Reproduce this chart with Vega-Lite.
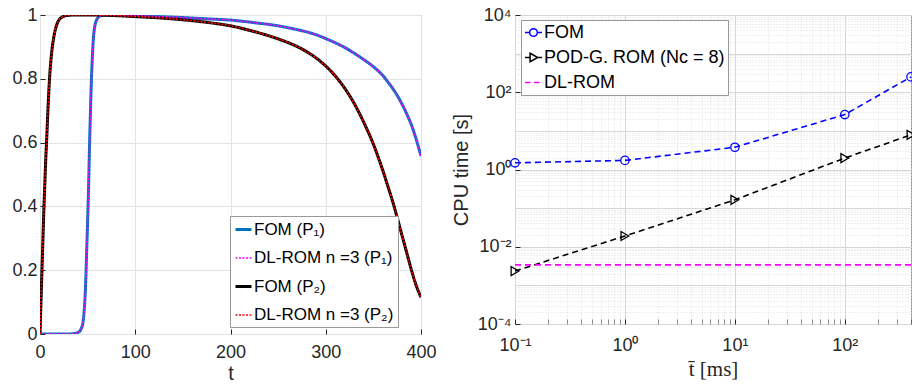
{
  "$schema": "https://vega.github.io/schema/vega-lite/v6.json",
  "padding": {"left": 11, "top": 5, "right": 0, "bottom": 0},
  "background": "white",
  "datasets": {
    "curves": [
      {"t": 0, "FOM (P₁)": 0, "DL-ROM n =3 (P₁)": 0, "FOM (P₂)": 0, "DL-ROM n =3 (P₂)": 0},
      {"t": 1, "FOM (P₁)": 0, "DL-ROM n =3 (P₁)": 0, "FOM (P₂)": 0.1, "DL-ROM n =3 (P₂)": 0.1},
      {"t": 2, "FOM (P₁)": 0, "DL-ROM n =3 (P₁)": 0, "FOM (P₂)": 0.195, "DL-ROM n =3 (P₂)": 0.195},
      {"t": 3, "FOM (P₁)": 0, "DL-ROM n =3 (P₁)": 0, "FOM (P₂)": 0.29, "DL-ROM n =3 (P₂)": 0.29},
      {"t": 4, "FOM (P₁)": 0, "DL-ROM n =3 (P₁)": 0, "FOM (P₂)": 0.385, "DL-ROM n =3 (P₂)": 0.385},
      {"t": 5, "FOM (P₁)": 0, "DL-ROM n =3 (P₁)": 0, "FOM (P₂)": 0.465, "DL-ROM n =3 (P₂)": 0.465},
      {"t": 6, "FOM (P₁)": 0, "DL-ROM n =3 (P₁)": 0, "FOM (P₂)": 0.545, "DL-ROM n =3 (P₂)": 0.545},
      {"t": 7, "FOM (P₁)": 0, "DL-ROM n =3 (P₁)": 0, "FOM (P₂)": 0.61, "DL-ROM n =3 (P₂)": 0.61},
      {"t": 8, "FOM (P₁)": 0, "DL-ROM n =3 (P₁)": 0, "FOM (P₂)": 0.68, "DL-ROM n =3 (P₂)": 0.68},
      {"t": 9, "FOM (P₁)": 0, "DL-ROM n =3 (P₁)": 0, "FOM (P₂)": 0.745, "DL-ROM n =3 (P₂)": 0.745},
      {"t": 10, "FOM (P₁)": 0, "DL-ROM n =3 (P₁)": 0, "FOM (P₂)": 0.8, "DL-ROM n =3 (P₂)": 0.8},
      {"t": 12, "FOM (P₁)": 0, "DL-ROM n =3 (P₁)": 0, "FOM (P₂)": 0.875, "DL-ROM n =3 (P₂)": 0.875},
      {"t": 14, "FOM (P₁)": 0, "DL-ROM n =3 (P₁)": 0, "FOM (P₂)": 0.922, "DL-ROM n =3 (P₂)": 0.922},
      {"t": 16, "FOM (P₁)": 0, "DL-ROM n =3 (P₁)": 0, "FOM (P₂)": 0.953, "DL-ROM n =3 (P₂)": 0.953},
      {"t": 18, "FOM (P₁)": 0, "DL-ROM n =3 (P₁)": 0, "FOM (P₂)": 0.973, "DL-ROM n =3 (P₂)": 0.973},
      {"t": 20, "FOM (P₁)": 0, "DL-ROM n =3 (P₁)": 0, "FOM (P₂)": 0.985, "DL-ROM n =3 (P₂)": 0.985},
      {"t": 23, "FOM (P₁)": 0, "DL-ROM n =3 (P₁)": 0, "FOM (P₂)": 0.993, "DL-ROM n =3 (P₂)": 0.993},
      {"t": 26, "FOM (P₁)": 0, "DL-ROM n =3 (P₁)": 0, "FOM (P₂)": 0.997, "DL-ROM n =3 (P₂)": 0.997},
      {"t": 30, "FOM (P₁)": 0, "DL-ROM n =3 (P₁)": 0, "FOM (P₂)": 0.999, "DL-ROM n =3 (P₂)": 0.999},
      {"t": 35, "FOM (P₁)": 0.001, "DL-ROM n =3 (P₁)": 0.001, "FOM (P₂)": 1, "DL-ROM n =3 (P₂)": 1},
      {"t": 40, "FOM (P₁)": 0.005, "DL-ROM n =3 (P₁)": 0.005, "FOM (P₂)": 1, "DL-ROM n =3 (P₂)": 1},
      {"t": 43, "FOM (P₁)": 0.015, "DL-ROM n =3 (P₁)": 0.015, "FOM (P₂)": 1, "DL-ROM n =3 (P₂)": 1},
      {"t": 45, "FOM (P₁)": 0.035, "DL-ROM n =3 (P₁)": 0.035, "FOM (P₂)": 1, "DL-ROM n =3 (P₂)": 1},
      {"t": 46, "FOM (P₁)": 0.06, "DL-ROM n =3 (P₁)": 0.06, "FOM (P₂)": 1, "DL-ROM n =3 (P₂)": 1},
      {"t": 47, "FOM (P₁)": 0.1, "DL-ROM n =3 (P₁)": 0.1, "FOM (P₂)": 1, "DL-ROM n =3 (P₂)": 1},
      {"t": 48, "FOM (P₁)": 0.165, "DL-ROM n =3 (P₁)": 0.165, "FOM (P₂)": 1, "DL-ROM n =3 (P₂)": 1},
      {"t": 49, "FOM (P₁)": 0.26, "DL-ROM n =3 (P₁)": 0.26, "FOM (P₂)": 1, "DL-ROM n =3 (P₂)": 1},
      {"t": 50, "FOM (P₁)": 0.355, "DL-ROM n =3 (P₁)": 0.355, "FOM (P₂)": 1, "DL-ROM n =3 (P₂)": 1},
      {"t": 51, "FOM (P₁)": 0.46, "DL-ROM n =3 (P₁)": 0.46, "FOM (P₂)": 1, "DL-ROM n =3 (P₂)": 1},
      {"t": 52, "FOM (P₁)": 0.59, "DL-ROM n =3 (P₁)": 0.59, "FOM (P₂)": 1, "DL-ROM n =3 (P₂)": 1},
      {"t": 53, "FOM (P₁)": 0.7, "DL-ROM n =3 (P₁)": 0.7, "FOM (P₂)": 1, "DL-ROM n =3 (P₂)": 1},
      {"t": 54, "FOM (P₁)": 0.8, "DL-ROM n =3 (P₁)": 0.8, "FOM (P₂)": 1, "DL-ROM n =3 (P₂)": 1},
      {"t": 55, "FOM (P₁)": 0.87, "DL-ROM n =3 (P₁)": 0.87, "FOM (P₂)": 1, "DL-ROM n =3 (P₂)": 1},
      {"t": 56, "FOM (P₁)": 0.925, "DL-ROM n =3 (P₁)": 0.925, "FOM (P₂)": 1, "DL-ROM n =3 (P₂)": 1},
      {"t": 57, "FOM (P₁)": 0.955, "DL-ROM n =3 (P₁)": 0.955, "FOM (P₂)": 1, "DL-ROM n =3 (P₂)": 1},
      {"t": 58, "FOM (P₁)": 0.972, "DL-ROM n =3 (P₁)": 0.972, "FOM (P₂)": 1, "DL-ROM n =3 (P₂)": 1},
      {"t": 60, "FOM (P₁)": 0.988, "DL-ROM n =3 (P₁)": 0.988, "FOM (P₂)": 1, "DL-ROM n =3 (P₂)": 1},
      {"t": 62, "FOM (P₁)": 0.995, "DL-ROM n =3 (P₁)": 0.995, "FOM (P₂)": 0.999, "DL-ROM n =3 (P₂)": 0.999},
      {"t": 65, "FOM (P₁)": 0.999, "DL-ROM n =3 (P₁)": 0.999, "FOM (P₂)": 0.999, "DL-ROM n =3 (P₂)": 0.999},
      {"t": 70, "FOM (P₁)": 1, "DL-ROM n =3 (P₁)": 1, "FOM (P₂)": 0.999, "DL-ROM n =3 (P₂)": 0.999},
      {"t": 80, "FOM (P₁)": 1, "DL-ROM n =3 (P₁)": 1, "FOM (P₂)": 0.998, "DL-ROM n =3 (P₂)": 0.998},
      {"t": 100, "FOM (P₁)": 0.998, "DL-ROM n =3 (P₁)": 0.998, "FOM (P₂)": 0.995, "DL-ROM n =3 (P₂)": 0.995},
      {"t": 125, "FOM (P₁)": 0.995, "DL-ROM n =3 (P₁)": 0.995, "FOM (P₂)": 0.991, "DL-ROM n =3 (P₂)": 0.991},
      {"t": 150, "FOM (P₁)": 0.992, "DL-ROM n =3 (P₁)": 0.992, "FOM (P₂)": 0.985, "DL-ROM n =3 (P₂)": 0.985},
      {"t": 175, "FOM (P₁)": 0.988, "DL-ROM n =3 (P₁)": 0.988, "FOM (P₂)": 0.977, "DL-ROM n =3 (P₂)": 0.977},
      {"t": 200, "FOM (P₁)": 0.984, "DL-ROM n =3 (P₁)": 0.984, "FOM (P₂)": 0.966, "DL-ROM n =3 (P₂)": 0.966},
      {"t": 225, "FOM (P₁)": 0.976, "DL-ROM n =3 (P₁)": 0.976, "FOM (P₂)": 0.948, "DL-ROM n =3 (P₂)": 0.948},
      {"t": 250, "FOM (P₁)": 0.966, "DL-ROM n =3 (P₁)": 0.966, "FOM (P₂)": 0.925, "DL-ROM n =3 (P₂)": 0.925},
      {"t": 270, "FOM (P₁)": 0.954, "DL-ROM n =3 (P₁)": 0.954, "FOM (P₂)": 0.901, "DL-ROM n =3 (P₂)": 0.901},
      {"t": 280, "FOM (P₁)": 0.947, "DL-ROM n =3 (P₁)": 0.947, "FOM (P₂)": 0.885, "DL-ROM n =3 (P₂)": 0.885},
      {"t": 290, "FOM (P₁)": 0.938, "DL-ROM n =3 (P₁)": 0.938, "FOM (P₂)": 0.865, "DL-ROM n =3 (P₂)": 0.865},
      {"t": 300, "FOM (P₁)": 0.926, "DL-ROM n =3 (P₁)": 0.926, "FOM (P₂)": 0.84, "DL-ROM n =3 (P₂)": 0.84},
      {"t": 310, "FOM (P₁)": 0.913, "DL-ROM n =3 (P₁)": 0.913, "FOM (P₂)": 0.809, "DL-ROM n =3 (P₂)": 0.809},
      {"t": 320, "FOM (P₁)": 0.898, "DL-ROM n =3 (P₁)": 0.898, "FOM (P₂)": 0.77, "DL-ROM n =3 (P₂)": 0.77},
      {"t": 330, "FOM (P₁)": 0.88, "DL-ROM n =3 (P₁)": 0.88, "FOM (P₂)": 0.722, "DL-ROM n =3 (P₂)": 0.722},
      {"t": 340, "FOM (P₁)": 0.86, "DL-ROM n =3 (P₁)": 0.86, "FOM (P₂)": 0.663, "DL-ROM n =3 (P₂)": 0.663},
      {"t": 350, "FOM (P₁)": 0.838, "DL-ROM n =3 (P₁)": 0.838, "FOM (P₂)": 0.595, "DL-ROM n =3 (P₂)": 0.595},
      {"t": 355, "FOM (P₁)": 0.825, "DL-ROM n =3 (P₁)": 0.825, "FOM (P₂)": 0.555, "DL-ROM n =3 (P₂)": 0.555},
      {"t": 360, "FOM (P₁)": 0.81, "DL-ROM n =3 (P₁)": 0.81, "FOM (P₂)": 0.512, "DL-ROM n =3 (P₂)": 0.512},
      {"t": 365, "FOM (P₁)": 0.791, "DL-ROM n =3 (P₁)": 0.791, "FOM (P₂)": 0.465, "DL-ROM n =3 (P₂)": 0.465},
      {"t": 370, "FOM (P₁)": 0.771, "DL-ROM n =3 (P₁)": 0.771, "FOM (P₂)": 0.418, "DL-ROM n =3 (P₂)": 0.418},
      {"t": 375, "FOM (P₁)": 0.748, "DL-ROM n =3 (P₁)": 0.748, "FOM (P₂)": 0.365, "DL-ROM n =3 (P₂)": 0.365},
      {"t": 380, "FOM (P₁)": 0.721, "DL-ROM n =3 (P₁)": 0.721, "FOM (P₂)": 0.31, "DL-ROM n =3 (P₂)": 0.31},
      {"t": 385, "FOM (P₁)": 0.69, "DL-ROM n =3 (P₁)": 0.69, "FOM (P₂)": 0.255, "DL-ROM n =3 (P₂)": 0.255},
      {"t": 390, "FOM (P₁)": 0.655, "DL-ROM n =3 (P₁)": 0.655, "FOM (P₂)": 0.2, "DL-ROM n =3 (P₂)": 0.2},
      {"t": 395, "FOM (P₁)": 0.61, "DL-ROM n =3 (P₁)": 0.61, "FOM (P₂)": 0.152, "DL-ROM n =3 (P₂)": 0.152},
      {"t": 400, "FOM (P₁)": 0.558, "DL-ROM n =3 (P₁)": 0.558, "FOM (P₂)": 0.115, "DL-ROM n =3 (P₂)": 0.115}
    ],
    "cpu": [
      {"series": "FOM", "tbar": 0.1, "cpu": 1.49},
      {"series": "FOM", "tbar": 1, "cpu": 1.72},
      {"series": "FOM", "tbar": 10, "cpu": 3.77},
      {"series": "FOM", "tbar": 100, "cpu": 26.4},
      {"series": "FOM", "tbar": 400, "cpu": 250},
      {"series": "POD-G. ROM (Nc = 8)", "tbar": 0.1, "cpu": 0.00235},
      {"series": "POD-G. ROM (Nc = 8)", "tbar": 1, "cpu": 0.019},
      {"series": "POD-G. ROM (Nc = 8)", "tbar": 10, "cpu": 0.164},
      {"series": "POD-G. ROM (Nc = 8)", "tbar": 100, "cpu": 1.98},
      {"series": "POD-G. ROM (Nc = 8)", "tbar": 400, "cpu": 7.9},
      {"series": "DL-ROM", "tbar": 0.1, "cpu": 0.0034},
      {"series": "DL-ROM", "tbar": 400, "cpu": 0.0034}
    ]
  },
  "config": {
    "font": "Liberation Sans",
    "view": {"stroke": "#8c8c8c", "strokeWidth": 1},
    "concat": {"spacing": 13},
    "axis": {
      "domain": false,
      "labelFont": "Liberation Sans",
      "labelFontSize": 18,
      "labelColor": "#262626",
      "tickColor": "#262626",
      "tickSize": -5,
      "labelPadding": 11,
      "titleFont": "Liberation Sans",
      "titleFontSize": 20,
      "titleFontWeight": "normal",
      "titleColor": "#262626",
      "gridColor": "#e3e3e3"
    }
  },
  "resolve": {
    "scale": {"color": "independent", "shape": "independent", "strokeDash": "independent", "strokeWidth": "independent"},
    "legend": {"color": "independent", "shape": "independent", "strokeDash": "independent", "strokeWidth": "independent"}
  },
  "hconcat": [
    {
      "width": 381,
      "height": 319,
      "data": {"name": "curves"},
      "transform": [
        {"fold": ["FOM (P₁)", "FOM (P₂)", "DL-ROM n =3 (P₁)", "DL-ROM n =3 (P₂)"], "as": ["series", "u"]}
      ],
      "mark": {"type": "line", "interpolate": "monotone", "clip": true},
      "encoding": {
        "x": {
          "field": "t", "type": "quantitative",
          "scale": {"domain": [0, 400], "nice": false},
          "axis": {"values": [0, 100, 200, 300, 400], "title": "t", "titlePadding": 2, "labelPadding": 14, "labelFlush": false}
        },
        "y": {
          "field": "u", "type": "quantitative",
          "scale": {"domain": [0, 1], "nice": false},
          "axis": {"values": [0, 0.2, 0.4, 0.6, 0.8, 1], "title": null, "labelExpr": "'' + datum.value", "labelFlush": false, "labelAlign": "right", "labelPadding": 8}
        },
        "color": {
          "field": "series", "type": "nominal",
          "scale": {
            "domain": ["FOM (P₁)", "DL-ROM n =3 (P₁)", "FOM (P₂)", "DL-ROM n =3 (P₂)"],
            "range": ["#0072BD", "#FF00FF", "#000000", "#FF0000"]
          },
          "legend": {
            "title": null, "orient": "none", "legendX": 190, "legendY": 201,
            "direction": "vertical", "zindex": 2,
            "labelFontSize": 17, "labelColor": "#000000", "labelFont": "Liberation Sans", "labelLimit": 300,
            "strokeColor": "#999999", "fillColor": "white",
            "padding": 4, "rowPadding": 11, "symbolSize": 256, "labelOffset": 1
          }
        },
        "strokeDash": {
          "field": "series", "type": "nominal",
          "scale": {
            "domain": ["FOM (P₁)", "DL-ROM n =3 (P₁)", "FOM (P₂)", "DL-ROM n =3 (P₂)"],
            "range": [[1, 0], [2, 1.5], [1, 0], [2, 1.5]]
          }
        },
        "strokeWidth": {
          "field": "series", "type": "nominal",
          "scale": {
            "type": "ordinal",
            "domain": ["FOM (P₁)", "DL-ROM n =3 (P₁)", "FOM (P₂)", "DL-ROM n =3 (P₂)"],
            "range": [3, 1.6, 3, 1.6]
          }
        }
      }
    },
    {
      "width": 396,
      "height": 309,
      "data": {"name": "cpu"},
      "encoding": {
        "x": {
          "field": "tbar", "type": "quantitative",
          "scale": {"type": "log", "domain": [0.1, 400], "nice": false},
          "axis": {
            "title": "t̄ [ms]", "titleFont": "Liberation Serif", "titleFontSize": 21, "titlePadding": 4, "labelPadding": 17,
            "values": [0.1, 0.2, 0.3, 0.4, 0.5, 0.6, 0.7, 0.8, 0.9, 1, 2, 3, 4, 5, 6, 7, 8, 9, 10, 20, 30, 40, 50, 60, 70, 80, 90, 100, 200, 300, 400],
            "labelExpr": "datum.value == 0.1 ? '10⁻¹' : datum.value == 1 ? '10⁰' : datum.value == 10 ? '10¹' : datum.value == 100 ? '10²' : ''",
            "labelFlush": false,
            "gridColor": {"condition": {"test": "indexof([0.1, 1, 10, 100], datum.value) >= 0", "value": "#d6d6d6"}, "value": "#dedede"},
            "gridDash": {"condition": {"test": "indexof([0.1, 1, 10, 100], datum.value) >= 0", "value": []}, "value": [1, 2]},
            "tickOpacity": {"condition": {"test": "indexof([0.1, 1, 10, 100], datum.value) >= 0", "value": 1}, "value": 0.5}
          }
        },
        "y": {
          "field": "cpu", "type": "quantitative",
          "scale": {"type": "log", "domain": [0.0001, 10000], "nice": false},
          "axis": {
            "title": "CPU time [s]", "titlePadding": 6,
            "values": [0.0001, 0.0002, 0.0003, 0.0004, 0.0005, 0.0006, 0.0007, 0.0008, 0.0009, 0.001, 0.002, 0.003, 0.004, 0.005, 0.006, 0.007, 0.008, 0.009, 0.01, 0.02, 0.03, 0.04, 0.05, 0.06, 0.07, 0.08, 0.09, 0.1, 0.2, 0.3, 0.4, 0.5, 0.6, 0.7, 0.8, 0.9, 1, 2, 3, 4, 5, 6, 7, 8, 9, 10, 20, 30, 40, 50, 60, 70, 80, 90, 100, 200, 300, 400, 500, 600, 700, 800, 900, 1000, 2000, 3000, 4000, 5000, 6000, 7000, 8000, 9000, 10000],
            "labelExpr": "datum.value == 0.0001 ? '10⁻⁴' : datum.value == 0.01 ? '10⁻²' : datum.value == 1 ? '10⁰' : datum.value == 100 ? '10²' : datum.value == 10000 ? '10⁴' : ''",
            "labelFlush": false,
            "labelAlign": "right",
            "labelPadding": 9,
            "gridColor": {"condition": {"test": "indexof([0.0001, 0.001, 0.01, 0.1, 1, 10, 100, 1000, 10000], datum.value) >= 0", "value": "#d6d6d6"}, "value": "#dedede"},
            "gridDash": {"condition": {"test": "indexof([0.0001, 0.001, 0.01, 0.1, 1, 10, 100, 1000, 10000], datum.value) >= 0", "value": []}, "value": [1, 2]},
            "tickOpacity": {"condition": {"test": "indexof([0.0001, 0.01, 1, 100, 10000], datum.value) >= 0", "value": 1}, "value": 0}
          }
        }
      },
      "layer": [
        {
          "transform": [{"filter": "datum.series == 'FOM'"}],
          "mark": {"type": "line", "color": "#0000FF", "strokeWidth": 1.6, "strokeDash": [6, 4]}
        },
        {
          "transform": [{"filter": "datum.series == 'POD-G. ROM (Nc = 8)'"}],
          "mark": {"type": "line", "color": "#000000", "strokeWidth": 1.6, "strokeDash": [6, 4]}
        },
        {
          "transform": [{"filter": "datum.series == 'DL-ROM'"}],
          "mark": {"type": "line", "color": "#FF00FF", "strokeWidth": 1.6, "strokeDash": [6, 4]}
        },
        {
          "transform": [{"filter": "datum.series == 'FOM'"}],
          "mark": {"type": "point", "shape": "circle", "filled": false, "color": "#0000FF", "size": 70, "strokeWidth": 1.3, "opacity": 1}
        },
        {
          "transform": [{"filter": "datum.series == 'POD-G. ROM (Nc = 8)'"}],
          "mark": {"type": "point", "shape": "triangle-right", "filled": false, "color": "#000000", "size": 80, "strokeWidth": 1.3, "opacity": 1}
        },
        {
          "mark": {"type": "point", "filled": false, "opacity": 0, "strokeWidth": 1.5},
          "encoding": {
            "color": {
              "field": "series", "type": "nominal",
              "scale": {"domain": ["FOM", "POD-G. ROM (Nc = 8)", "DL-ROM"], "range": ["#0000FF", "#000000", "#FF00FF"]},
              "legend": {
                "title": null, "orient": "none", "legendX": 6, "legendY": 5,
                "direction": "vertical", "zindex": 2,
                "labelFontSize": 18, "labelColor": "#000000", "labelFont": "Liberation Sans", "labelLimit": 300,
                "strokeColor": "#999999", "fillColor": "white",
                "padding": 3, "rowPadding": 6, "symbolSize": 289, "labelOffset": 1,
                "encode": {"symbols": {"update": {"opacity": {"value": 1}, "strokeWidth": {"value": 1.5}, "fill": {"value": "transparent"}}}}
              }
            },
            "shape": {
              "field": "series", "type": "nominal",
              "scale": {
                "domain": ["FOM", "POD-G. ROM (Nc = 8)", "DL-ROM"],
                "range": [
                  "M-1,0H-0.45M0.45,0H1M0.45,0A0.45,0.45 0 1 1 -0.45,0A0.45,0.45 0 1 1 0.45,0",
                  "M-1,0H-0.4M0.45,0H1M-0.4,-0.5L0.5,0L-0.4,0.5Z",
                  "M-1,0H-0.35M0.05,0H0.7"
                ]
              }
            }
          }
        }
      ]
    }
  ]
}
